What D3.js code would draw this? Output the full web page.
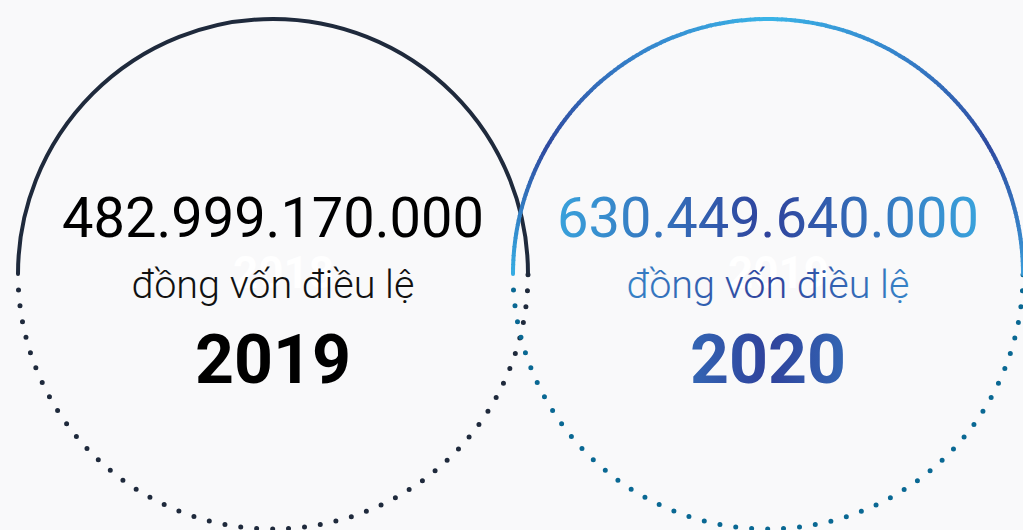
<!DOCTYPE html>
<html>
<head>
<meta charset="utf-8">
<script src="https://cdn.jsdelivr.net/npm/d3@7"></script>
<style>
html,body{margin:0;padding:0;background:#f9f9fa;overflow:hidden;}
svg{display:block;}
</style>
</head>
<body>
<svg id="chart" width="1023" height="530"></svg>
<script>
// ---- data ----
const years = ["2019", "2020"];
const capitalValues = ["482.999.170.000", "630.449.640.000"];
const capitalLabel = "đồng vốn điều lệ";
const ghostYears = ["2018", "2019"];

// ---- layout ----
const W = 1023, H = 530;
const R = 255, CY = 274;
const svg = d3.select("#chart");
svg.append("rect").attr("width", W).attr("height", H).attr("fill", "#f9f9fa");

const x = d3.scalePoint().domain(years).range([273, 768]);

const defs = svg.append("defs");
const tg = defs.append("linearGradient").attr("id", "textGrad")
  .attr("gradientUnits", "userSpaceOnUse")
  .attr("x1", 545).attr("x2", 990).attr("y1", 0).attr("y2", 0);
tg.append("stop").attr("offset", 0).attr("stop-color", "#3aa8e0");
tg.append("stop").attr("offset", 0.5).attr("stop-color", "#2f429c");
tg.append("stop").attr("offset", 1).attr("stop-color", "#3aa8e0");

// arc colour along angle for the 2020 circle (t: 0 = left end, 1 = right end)
const arcColor = d3.piecewise(d3.interpolateRgb,
  ["#36ade3", "#2f4aa0", "#3584cc", "#3ab4e7", "#3584cc", "#2f4aa0", "#3a9cda"]);

const styles = [
  {solid: "#1f2a3c", dots: "#1f2a3c", text: "#000", label: "#111", year: "#000"},
  {solid: null, dots: "#0a6893", text: "url(#textGrad)", label: "url(#textGrad)", year: "url(#textGrad)"}
];

years.forEach((yr, i) => {
  const cx = x(yr);
  const st = styles[i];
  const g = svg.append("g");

  // dotted lower half
  const dp = d3.path();
  const a0 = Math.PI - 16 / R;
  dp.arc(cx, CY, R, a0, 0, true);
  g.append("path").attr("d", dp.toString())
    .attr("fill", "none").attr("stroke", st.dots)
    .attr("stroke-width", 5).attr("stroke-linecap", "round")
    .attr("stroke-dasharray", "0 16");

  // solid upper half
  if (st.solid) {
    const p = d3.path();
    p.arc(cx, CY, R, Math.PI, 2 * Math.PI, false);
    g.append("path").attr("d", p.toString())
      .attr("fill", "none").attr("stroke", st.solid)
      .attr("stroke-width", 4).attr("stroke-linecap", "round");
  } else {
    const N = 180;
    d3.range(N).forEach(k => {
      const s = Math.PI + Math.PI * k / N;
      const e = Math.PI + Math.PI * (k + 1) / N + 0.004;
      const p = d3.path();
      p.arc(cx, CY, R, s, Math.min(e, 2 * Math.PI), false);
      g.append("path").attr("d", p.toString())
        .attr("fill", "none").attr("stroke", arcColor((k + 0.5) / N))
        .attr("stroke-width", 4)
        .attr("stroke-linecap", (k === 0 || k === N - 1) ? "round" : "butt");
    });
  }

  // ghost year (white)
  g.append("text").attr("x", cx - 40).attr("y", 288)
    .attr("font-family", "Roboto").attr("font-weight", 700)
    .attr("font-size", 44).attr("fill", "#ffffff")
    .text(ghostYears[i]);

  g.append("text").attr("x", cx).attr("y", 237)
    .attr("text-anchor", "middle")
    .attr("font-family", "Roboto").attr("font-weight", 400)
    .attr("font-size", 56).attr("fill", st.text)
    .text(capitalValues[i]);

  g.append("text").attr("x", cx).attr("y", 298)
    .attr("text-anchor", "middle")
    .attr("font-family", "Roboto").attr("font-weight", 300)
    .attr("font-size", 39.5).attr("fill", st.label)
    .text(capitalLabel);

  g.append("text").attr("x", cx).attr("y", 383)
    .attr("text-anchor", "middle")
    .attr("font-family", "Roboto").attr("font-weight", 700)
    .attr("font-size", 68).attr("fill", st.year)
    .text(yr);
});
</script>
</body>
</html>
